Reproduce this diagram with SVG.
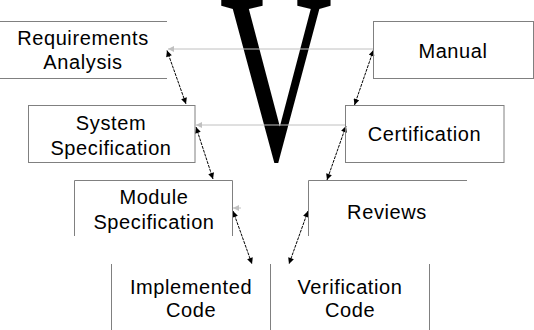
<svg xmlns="http://www.w3.org/2000/svg" width="534" height="330" viewBox="0 0 534 330">
<style>
.bx{fill:none;stroke:#808080;stroke-width:1}
.lb{font-family:"Liberation Sans",Arial,sans-serif;font-size:20px;letter-spacing:0.6px;fill:#000;text-anchor:middle}
.gl{stroke:#c0c0c0;stroke-width:1;fill:none}
.bl{stroke:#000;stroke-width:1;fill:none;stroke-dasharray:3 1}
</style>
<defs>
<marker id="ga" viewBox="0 0 10 10" refX="10" refY="5" markerWidth="7" markerHeight="6" markerUnits="userSpaceOnUse" orient="auto"><path d="M0,0L10,5L0,10z" fill="#c0c0c0"/></marker>
<marker id="ba" viewBox="0 0 10 10" refX="10" refY="5" markerWidth="7" markerHeight="6" markerUnits="userSpaceOnUse" orient="auto-start-reverse"><path d="M0,0L10,5L0,10z" fill="#000"/></marker>
</defs>
<rect width="534" height="330" fill="#fff"/>
<text x="0" y="0" transform="translate(276,159) scale(0.64,1)" font-family="'Liberation Serif','Times New Roman',serif" font-size="244" text-anchor="middle" fill="#000">V</text>
<g id="connectors">
<line class="gl" x1="373.5" y1="49" x2="168" y2="49" marker-end="url(#ga)"/>
<line class="gl" x1="345" y1="125" x2="196" y2="125" marker-end="url(#ga)"/>
<line class="gl" x1="241" y1="208" x2="233" y2="208" marker-end="url(#ga)"/>
<line class="bl" x1="167" y1="50.5" x2="186" y2="104" marker-start="url(#ba)" marker-end="url(#ba)"/>
<line class="bl" x1="196" y1="127" x2="213" y2="179" marker-start="url(#ba)" marker-end="url(#ba)"/>
<line class="bl" x1="233" y1="211" x2="252" y2="264" marker-start="url(#ba)" marker-end="url(#ba)"/>
<line class="bl" x1="308" y1="211" x2="289" y2="264" marker-start="url(#ba)" marker-end="url(#ba)"/>
<line class="bl" x1="346" y1="126" x2="327" y2="180" marker-start="url(#ba)" marker-end="url(#ba)"/>
<line class="bl" x1="373.5" y1="50" x2="354.5" y2="105" marker-start="url(#ba)" marker-end="url(#ba)"/>
</g>
<g id="requirements">
<path class="bx" d="M0,21.5H167M0,78.5H167"/>
<text class="lb" x="83" y="45">Requirements</text>
<text class="lb" x="83" y="68.5">Analysis</text>
</g>
<g id="manual">
<rect class="bx" x="373.5" y="21.5" width="160" height="57"/>
<text class="lb" x="453" y="58">Manual</text>
</g>
<g id="system">
<rect class="bx" x="28.5" y="105.5" width="166.5" height="57"/>
<text class="lb" x="111" y="130">System</text>
<text class="lb" x="111" y="155">Specification</text>
</g>
<g id="certification">
<rect class="bx" x="345.5" y="105.5" width="158.5" height="57"/>
<text class="lb" x="424.5" y="141">Certification</text>
</g>
<g id="module">
<path class="bx" d="M74.5,236V180.5H232.5V236"/>
<text class="lb" x="154" y="203.5">Module</text>
<text class="lb" x="154" y="228.5">Specification</text>
</g>
<g id="reviews">
<path class="bx" d="M308.5,236V180.5H467"/>
<text class="lb" x="387" y="218.5">Reviews</text>
</g>
<g id="implemented">
<path class="bx" d="M111.5,264V330M270.5,264V330"/>
<text class="lb" x="191" y="293.5">Implemented</text>
<text class="lb" x="191" y="317">Code</text>
</g>
<g id="verification">
<path class="bx" d="M429.5,264V330"/>
<text class="lb" x="350" y="293.5">Verification</text>
<text class="lb" x="350" y="317">Code</text>
</g>
</svg>
